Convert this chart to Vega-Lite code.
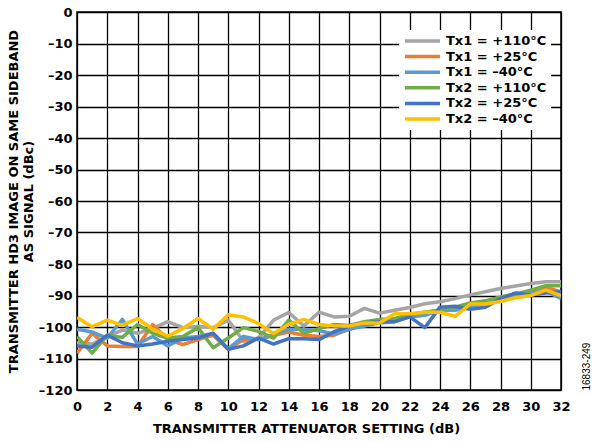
{
  "$schema": "https://vega.github.io/schema/vega-lite/v6.json",
  "width": 484,
  "height": 378,
  "autosize": {"type": "none"},
  "padding": {"left": 77, "top": 12, "right": 39, "bottom": 52},
  "background": "white",
  "config": {
    "font": "DejaVu Sans",
    "view": {"stroke": "#000000", "strokeWidth": 1.5},
    "axis": {
      "labelFont": "DejaVu Sans", "labelFontSize": 13, "labelFontWeight": "bold", "labelColor": "#000000",
      "titleFont": "DejaVu Sans", "titleFontSize": 13, "titleFontWeight": "bold", "titleColor": "#000000",
      "gridColor": "#000000", "gridOpacity": 1, "gridWidth": 1.3,
      "domain": false, "ticks": false
    },
    "legend": {
      "labelFont": "DejaVu Sans", "labelFontSize": 13, "labelFontWeight": "bold", "labelColor": "#000000"
    }
  },
  "data": {"values": [
    {"x":0,"s":"Tx1 = +110°C","v":-105},{"x":1,"s":"Tx1 = +110°C","v":-105.4},{"x":2,"s":"Tx1 = +110°C","v":-103},{"x":3,"s":"Tx1 = +110°C","v":-101},{"x":4,"s":"Tx1 = +110°C","v":-102},{"x":5,"s":"Tx1 = +110°C","v":-100.5},{"x":6,"s":"Tx1 = +110°C","v":-98.3},{"x":7,"s":"Tx1 = +110°C","v":-100.2},{"x":8,"s":"Tx1 = +110°C","v":-99.8},{"x":9,"s":"Tx1 = +110°C","v":-100.2},{"x":10,"s":"Tx1 = +110°C","v":-97.8},{"x":11,"s":"Tx1 = +110°C","v":-104.5},{"x":12,"s":"Tx1 = +110°C","v":-103.5},{"x":13,"s":"Tx1 = +110°C","v":-97.8},{"x":14,"s":"Tx1 = +110°C","v":-95.4},{"x":15,"s":"Tx1 = +110°C","v":-99.7},{"x":16,"s":"Tx1 = +110°C","v":-95.3},{"x":17,"s":"Tx1 = +110°C","v":-96.8},{"x":18,"s":"Tx1 = +110°C","v":-96.6},{"x":19,"s":"Tx1 = +110°C","v":-94.1},{"x":20,"s":"Tx1 = +110°C","v":-95.6},{"x":21,"s":"Tx1 = +110°C","v":-94.7},{"x":22,"s":"Tx1 = +110°C","v":-93.8},{"x":23,"s":"Tx1 = +110°C","v":-92.6},{"x":24,"s":"Tx1 = +110°C","v":-92},{"x":25,"s":"Tx1 = +110°C","v":-91},{"x":26,"s":"Tx1 = +110°C","v":-89.8},{"x":27,"s":"Tx1 = +110°C","v":-88.8},{"x":28,"s":"Tx1 = +110°C","v":-87.8},{"x":29,"s":"Tx1 = +110°C","v":-87},{"x":30,"s":"Tx1 = +110°C","v":-86.2},{"x":31,"s":"Tx1 = +110°C","v":-85.6},{"x":32,"s":"Tx1 = +110°C","v":-85.6},
    {"x":0,"s":"Tx1 = +25°C","v":-108.3},{"x":1,"s":"Tx1 = +25°C","v":-102},{"x":2,"s":"Tx1 = +25°C","v":-106},{"x":3,"s":"Tx1 = +25°C","v":-106.2},{"x":4,"s":"Tx1 = +25°C","v":-106.2},{"x":5,"s":"Tx1 = +25°C","v":-99.2},{"x":6,"s":"Tx1 = +25°C","v":-104},{"x":7,"s":"Tx1 = +25°C","v":-105.6},{"x":8,"s":"Tx1 = +25°C","v":-104},{"x":9,"s":"Tx1 = +25°C","v":-102.6},{"x":10,"s":"Tx1 = +25°C","v":-107.1},{"x":11,"s":"Tx1 = +25°C","v":-104},{"x":12,"s":"Tx1 = +25°C","v":-104},{"x":13,"s":"Tx1 = +25°C","v":-102.6},{"x":14,"s":"Tx1 = +25°C","v":-101.6},{"x":15,"s":"Tx1 = +25°C","v":-102.6},{"x":16,"s":"Tx1 = +25°C","v":-103},{"x":17,"s":"Tx1 = +25°C","v":-102.6},{"x":18,"s":"Tx1 = +25°C","v":-100.7},{"x":19,"s":"Tx1 = +25°C","v":-99.2},{"x":20,"s":"Tx1 = +25°C","v":-98.3},{"x":21,"s":"Tx1 = +25°C","v":-97.8},{"x":22,"s":"Tx1 = +25°C","v":-96.6},{"x":23,"s":"Tx1 = +25°C","v":-95.3},{"x":24,"s":"Tx1 = +25°C","v":-94.7},{"x":25,"s":"Tx1 = +25°C","v":-93.7},{"x":26,"s":"Tx1 = +25°C","v":-92.9},{"x":27,"s":"Tx1 = +25°C","v":-91.9},{"x":28,"s":"Tx1 = +25°C","v":-90.5},{"x":29,"s":"Tx1 = +25°C","v":-89.8},{"x":30,"s":"Tx1 = +25°C","v":-88.5},{"x":31,"s":"Tx1 = +25°C","v":-87.4},{"x":32,"s":"Tx1 = +25°C","v":-88.8},
    {"x":0,"s":"Tx1 = –40°C","v":-100.7},{"x":1,"s":"Tx1 = –40°C","v":-101.6},{"x":2,"s":"Tx1 = –40°C","v":-103.5},{"x":3,"s":"Tx1 = –40°C","v":-97.6},{"x":4,"s":"Tx1 = –40°C","v":-105.4},{"x":5,"s":"Tx1 = –40°C","v":-103},{"x":6,"s":"Tx1 = –40°C","v":-106},{"x":7,"s":"Tx1 = –40°C","v":-103.5},{"x":8,"s":"Tx1 = –40°C","v":-103},{"x":9,"s":"Tx1 = –40°C","v":-102},{"x":10,"s":"Tx1 = –40°C","v":-106.9},{"x":11,"s":"Tx1 = –40°C","v":-103},{"x":12,"s":"Tx1 = –40°C","v":-104},{"x":13,"s":"Tx1 = –40°C","v":-102.6},{"x":14,"s":"Tx1 = –40°C","v":-100.7},{"x":15,"s":"Tx1 = –40°C","v":-100.7},{"x":16,"s":"Tx1 = –40°C","v":-101.2},{"x":17,"s":"Tx1 = –40°C","v":-102.2},{"x":18,"s":"Tx1 = –40°C","v":-100.7},{"x":19,"s":"Tx1 = –40°C","v":-99.7},{"x":20,"s":"Tx1 = –40°C","v":-98.7},{"x":21,"s":"Tx1 = –40°C","v":-98.3},{"x":22,"s":"Tx1 = –40°C","v":-96.8},{"x":23,"s":"Tx1 = –40°C","v":-96.3},{"x":24,"s":"Tx1 = –40°C","v":-94.7},{"x":25,"s":"Tx1 = –40°C","v":-94.7},{"x":26,"s":"Tx1 = –40°C","v":-93.7},{"x":27,"s":"Tx1 = –40°C","v":-92.5},{"x":28,"s":"Tx1 = –40°C","v":-91.3},{"x":29,"s":"Tx1 = –40°C","v":-90.3},{"x":30,"s":"Tx1 = –40°C","v":-89.3},{"x":31,"s":"Tx1 = –40°C","v":-88.6},{"x":32,"s":"Tx1 = –40°C","v":-90.9},
    {"x":0,"s":"Tx2 = +110°C","v":-103},{"x":1,"s":"Tx2 = +110°C","v":-108.3},{"x":2,"s":"Tx2 = +110°C","v":-102.6},{"x":3,"s":"Tx2 = +110°C","v":-103.3},{"x":4,"s":"Tx2 = +110°C","v":-99.2},{"x":5,"s":"Tx2 = +110°C","v":-102},{"x":6,"s":"Tx2 = +110°C","v":-103.5},{"x":7,"s":"Tx2 = +110°C","v":-103},{"x":8,"s":"Tx2 = +110°C","v":-100.2},{"x":9,"s":"Tx2 = +110°C","v":-106.6},{"x":10,"s":"Tx2 = +110°C","v":-103.5},{"x":11,"s":"Tx2 = +110°C","v":-100.2},{"x":12,"s":"Tx2 = +110°C","v":-101.4},{"x":13,"s":"Tx2 = +110°C","v":-103.5},{"x":14,"s":"Tx2 = +110°C","v":-97.8},{"x":15,"s":"Tx2 = +110°C","v":-102},{"x":16,"s":"Tx2 = +110°C","v":-100.5},{"x":17,"s":"Tx2 = +110°C","v":-99.2},{"x":18,"s":"Tx2 = +110°C","v":-99.5},{"x":19,"s":"Tx2 = +110°C","v":-98.3},{"x":20,"s":"Tx2 = +110°C","v":-97.6},{"x":21,"s":"Tx2 = +110°C","v":-97.3},{"x":22,"s":"Tx2 = +110°C","v":-96},{"x":23,"s":"Tx2 = +110°C","v":-95.3},{"x":24,"s":"Tx2 = +110°C","v":-94.7},{"x":25,"s":"Tx2 = +110°C","v":-93.7},{"x":26,"s":"Tx2 = +110°C","v":-92.4},{"x":27,"s":"Tx2 = +110°C","v":-91.7},{"x":28,"s":"Tx2 = +110°C","v":-90.5},{"x":29,"s":"Tx2 = +110°C","v":-89.5},{"x":30,"s":"Tx2 = +110°C","v":-88.3},{"x":31,"s":"Tx2 = +110°C","v":-86.9},{"x":32,"s":"Tx2 = +110°C","v":-86.9},
    {"x":0,"s":"Tx2 = +25°C","v":-106},{"x":1,"s":"Tx2 = +25°C","v":-106.4},{"x":2,"s":"Tx2 = +25°C","v":-102.6},{"x":3,"s":"Tx2 = +25°C","v":-105},{"x":4,"s":"Tx2 = +25°C","v":-106},{"x":5,"s":"Tx2 = +25°C","v":-105.4},{"x":6,"s":"Tx2 = +25°C","v":-104.5},{"x":7,"s":"Tx2 = +25°C","v":-104},{"x":8,"s":"Tx2 = +25°C","v":-103.5},{"x":9,"s":"Tx2 = +25°C","v":-102},{"x":10,"s":"Tx2 = +25°C","v":-107.1},{"x":11,"s":"Tx2 = +25°C","v":-106},{"x":12,"s":"Tx2 = +25°C","v":-103.5},{"x":13,"s":"Tx2 = +25°C","v":-105.4},{"x":14,"s":"Tx2 = +25°C","v":-103.7},{"x":15,"s":"Tx2 = +25°C","v":-103.7},{"x":16,"s":"Tx2 = +25°C","v":-104},{"x":17,"s":"Tx2 = +25°C","v":-101.5},{"x":18,"s":"Tx2 = +25°C","v":-99.7},{"x":19,"s":"Tx2 = +25°C","v":-98.7},{"x":20,"s":"Tx2 = +25°C","v":-98.3},{"x":21,"s":"Tx2 = +25°C","v":-98.3},{"x":22,"s":"Tx2 = +25°C","v":-96.8},{"x":23,"s":"Tx2 = +25°C","v":-100.2},{"x":24,"s":"Tx2 = +25°C","v":-93.7},{"x":25,"s":"Tx2 = +25°C","v":-93.4},{"x":26,"s":"Tx2 = +25°C","v":-94.4},{"x":27,"s":"Tx2 = +25°C","v":-93.7},{"x":28,"s":"Tx2 = +25°C","v":-91},{"x":29,"s":"Tx2 = +25°C","v":-89.2},{"x":30,"s":"Tx2 = +25°C","v":-89.8},{"x":31,"s":"Tx2 = +25°C","v":-89.2},{"x":32,"s":"Tx2 = +25°C","v":-88.8},
    {"x":0,"s":"Tx2 = –40°C","v":-97},{"x":1,"s":"Tx2 = –40°C","v":-99.9},{"x":2,"s":"Tx2 = –40°C","v":-97.8},{"x":3,"s":"Tx2 = –40°C","v":-99.5},{"x":4,"s":"Tx2 = –40°C","v":-97.3},{"x":5,"s":"Tx2 = –40°C","v":-100.7},{"x":6,"s":"Tx2 = –40°C","v":-102.9},{"x":7,"s":"Tx2 = –40°C","v":-100.5},{"x":8,"s":"Tx2 = –40°C","v":-97.3},{"x":9,"s":"Tx2 = –40°C","v":-100.7},{"x":10,"s":"Tx2 = –40°C","v":-96.1},{"x":11,"s":"Tx2 = –40°C","v":-96.8},{"x":12,"s":"Tx2 = –40°C","v":-98.9},{"x":13,"s":"Tx2 = –40°C","v":-102.1},{"x":14,"s":"Tx2 = –40°C","v":-99.2},{"x":15,"s":"Tx2 = –40°C","v":-97.6},{"x":16,"s":"Tx2 = –40°C","v":-99.2},{"x":17,"s":"Tx2 = –40°C","v":-99.7},{"x":18,"s":"Tx2 = –40°C","v":-99.7},{"x":19,"s":"Tx2 = –40°C","v":-98.7},{"x":20,"s":"Tx2 = –40°C","v":-98.7},{"x":21,"s":"Tx2 = –40°C","v":-95.8},{"x":22,"s":"Tx2 = –40°C","v":-95.8},{"x":23,"s":"Tx2 = –40°C","v":-95.3},{"x":24,"s":"Tx2 = –40°C","v":-95.3},{"x":25,"s":"Tx2 = –40°C","v":-96.6},{"x":26,"s":"Tx2 = –40°C","v":-92.7},{"x":27,"s":"Tx2 = –40°C","v":-92.7},{"x":28,"s":"Tx2 = –40°C","v":-91.9},{"x":29,"s":"Tx2 = –40°C","v":-90.7},{"x":30,"s":"Tx2 = –40°C","v":-90},{"x":31,"s":"Tx2 = –40°C","v":-88.3},{"x":32,"s":"Tx2 = –40°C","v":-90}
  ]},
  "layer": [
    {
      "mark": {"type": "line", "strokeWidth": 3.5, "strokeJoin": "round", "clip": true},
      "encoding": {
        "x": {"field": "x", "type": "quantitative",
              "scale": {"domain": [0, 32], "nice": false, "zero": false},
              "axis": {"values": [0,2,4,6,8,10,12,14,16,18,20,22,24,26,28,30,32], "title": "TRANSMITTER ATTENUATOR SETTING (dB)", "labelPadding": 10, "titlePadding": 9, "titleX": 229, "labelFlush": false}},
        "y": {"field": "v", "type": "quantitative",
              "scale": {"domain": [-120, 0], "nice": false},
              "axis": {"values": [-120,-110,-100,-90,-80,-70,-60,-50,-40,-30,-20,-10,0],
                       "title": ["TRANSMITTER HD3 IMAGE ON SAME SIDEBAND", "AS SIGNAL (dBc)"],
                       "labelExpr": "replace(replace(datum.label, '−', '–'), '-', '–')",
                       "labelPadding": 5, "titlePadding": 3, "titleLineHeight": 15, "labelFlush": false}},
        "color": {"field": "s", "type": "nominal",
                  "scale": {"domain": ["Tx1 = +110°C", "Tx1 = +25°C", "Tx1 = –40°C", "Tx2 = +110°C", "Tx2 = +25°C", "Tx2 = –40°C"],
                            "range": ["#A5A5A5", "#ED7D31", "#5B9BD5", "#70AD47", "#4472C4", "#FFC000"]},
                  "legend": {"title": null, "orient": "none", "legendX": 322, "legendY": 18,
                             "fillColor": "white", "padding": 4,
                             "symbolType": "M-1,0H6", "symbolSize": 100, "symbolStrokeWidth": 3.5,
                             "labelOffset": 29, "rowPadding": 1.6}}
      }
    },
    {
      "mark": {"type": "point", "opacity": 0},
      "encoding": {
        "y": {"field": "v", "type": "quantitative",
              "axis": {"orient": "right", "title": "16833-249", "labels": false, "grid": false,
                       "titleFontWeight": "normal", "titleFontSize": 10, "titleAngle": 270,
                       "titleFont": "Liberation Sans",
                       "titleAnchor": "start", "titlePadding": 30}}
      }
    }
  ],
  "resolve": {"axis": {"y": "independent"}}
}
